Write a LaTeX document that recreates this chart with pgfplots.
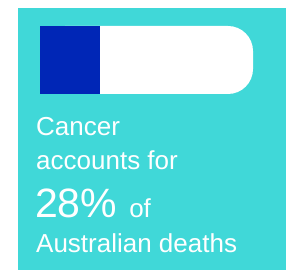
\documentclass[border=0pt]{standalone}
\usepackage{pgfplots}
\pgfplotsset{compat=1.18}
\usepackage{fontspec}
\setmainfont{Liberation Sans}
\definecolor{teal1}{RGB}{64,216,216}
\definecolor{barblue}{RGB}{0,38,182}
\begin{document}
\begin{tikzpicture}[x=1pt,y=1pt]
\fill[white] (0,0) rectangle (286,270);
\fill[teal1] (18,0) rectangle (286,262);
\begin{axis}[
  at={(40pt,176pt)}, anchor=south west,
  scale only axis, width=213pt, height=68pt,
  xmin=0, xmax=100, ymin=-0.5, ymax=0.5,
  hide axis, clip=false,
]
\addplot[xbar, bar width=1, bar shift=0pt, fill=white, draw=none, rounded corners=25pt] coordinates {(100,0)};
\addplot[xbar, bar width=1, bar shift=0pt, fill=barblue, draw=none] coordinates {(28,0)};
\end{axis}
\begin{scope}[every node/.style={anchor=base west, inner sep=0pt, text=white, font=\fontsize{26}{30}\selectfont}]
\node at (36,134) {Cancer};
\node at (36,100) {accounts for};
\node at (35,52) {{\fontsize{41}{45}\selectfont 28\%}\hspace{12pt}of};
\node at (36,17) {Australian deaths};
\end{scope}
\end{tikzpicture}
\end{document}
